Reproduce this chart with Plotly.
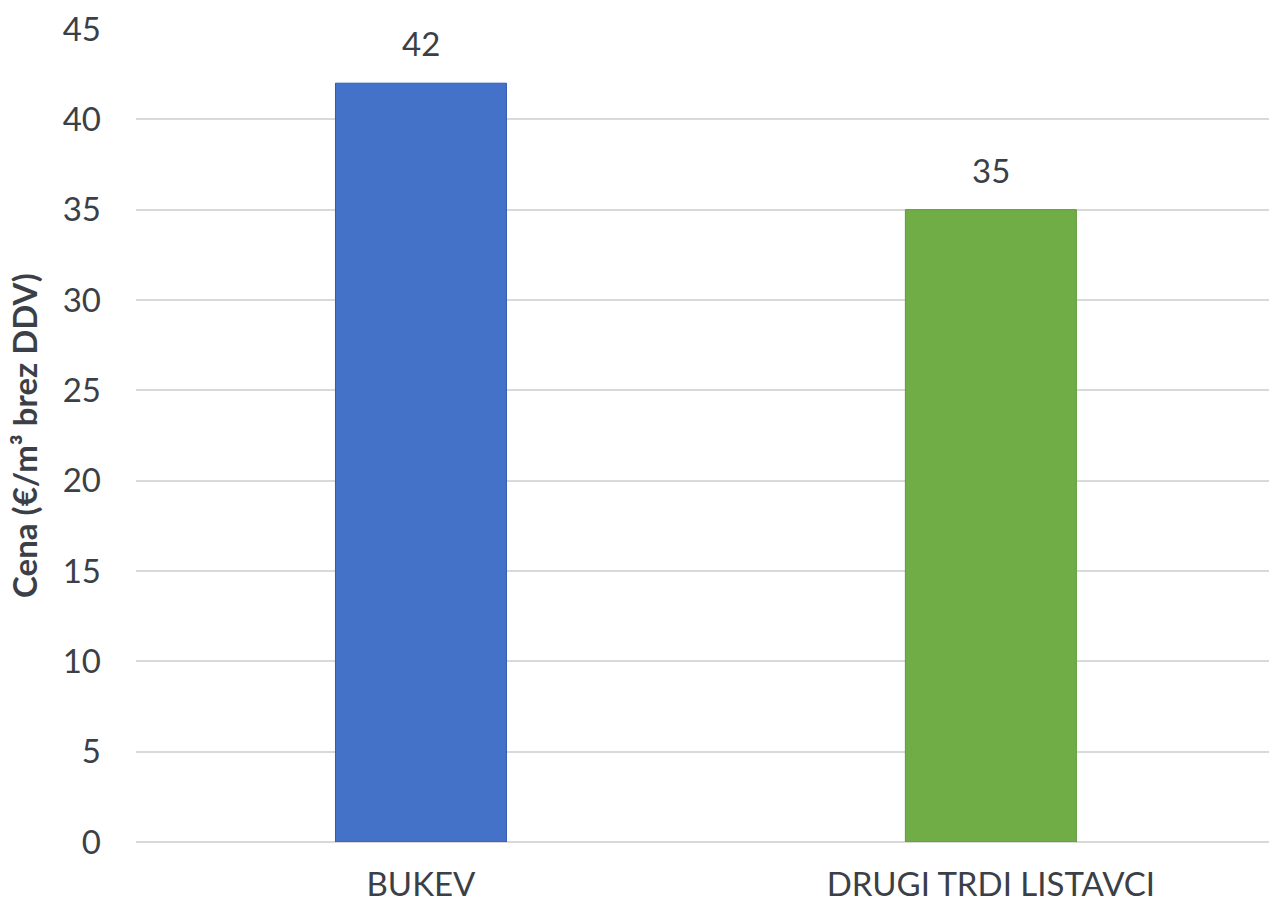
import plotly.graph_objects as go

categories = ["BUKEV", "DRUGI TRDI LISTAVCI"]
values = [42, 35]
colors = ["#4472C9", "#70AD47"]
line_colors = ["#2F5AAE", "#5E9A3A"]
tick_vals = [0, 5, 10, 15, 20, 25, 30, 35, 40, 45]

font_family = "Lato, 'Open Sans', sans-serif"
text_color = "#3B3F47"

fig = go.Figure()
fig.add_trace(go.Bar(
    x=categories,
    y=values,
    width=0.30,
    marker=dict(color=colors, line=dict(color=line_colors, width=1)),
    showlegend=False,
))

for c, v in zip(categories, values):
    fig.add_annotation(x=c, y=v, text=str(v), showarrow=False,
                       yshift=40, font=dict(size=33, color=text_color, family=font_family))

fig.update_layout(
    width=1269, height=905,
    margin=dict(l=136, r=0, t=29, b=63),
    paper_bgcolor="white", plot_bgcolor="white",
    font=dict(family=font_family, color=text_color),
    bargap=0.7,
)
fig.update_xaxes(
    range=[-0.5, 1.488],
    automargin=False,
    showgrid=False, showline=False, zeroline=False,
    tickfont=dict(size=33, color=text_color),
    ticklabelstandoff=20,
)
fig.update_yaxes(
    range=[0, 45],
    automargin=False,
    tickvals=tick_vals,
    showgrid=True, gridcolor="#D9D9D9", gridwidth=1.5,
    zeroline=True, zerolinecolor="#D9D9D9", zerolinewidth=1.5,
    showline=False,
    tickfont=dict(size=33, color=text_color),
    ticklabelstandoff=34,
    title=dict(text="<b>Cena (€/m³ brez DDV)</b>", font=dict(size=33, color=text_color), standoff=15),
)

fig.write_html(
    "out.html",
    config={"displayModeBar": False},
    post_script="document.body.style.margin='0';document.body.style.overflow='hidden';",
)
